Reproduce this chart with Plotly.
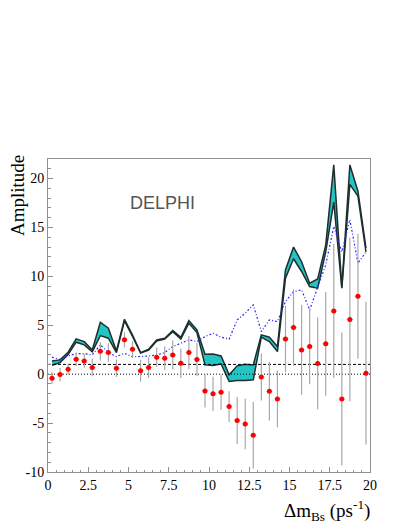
import plotly.graph_objects as go

dm = [0.25, 0.75, 1.25, 1.75, 2.25, 2.75, 3.25, 3.75, 4.25, 4.75,
      5.25, 5.75, 6.25, 6.75, 7.25, 7.75, 8.25, 8.75, 9.25, 9.75,
      10.25, 10.75, 11.25, 11.75, 12.25, 12.75, 13.25, 13.75, 14.25, 14.75,
      15.25, 15.75, 16.25, 16.75, 17.25, 17.75, 18.25, 18.75, 19.25, 19.75]

amp = [-0.41, -0.04, 0.51, 1.53, 1.36, 0.68, 2.35, 2.21, 0.61, 3.51,
       2.55, 0.34, 0.68, 1.74, 1.63, 1.97, 1.12, 2.21, 1.49, -1.71,
       -2.01, -1.84, -3.31, -4.74, -5.08, -6.24, -0.28, -1.74, -2.53, 3.61,
       4.77, 2.48, 2.82, 1.09, 3.10, 6.47, -2.53, 5.59, 7.97, 0.10]

err = [0.6, 0.68, 0.55, 0.7, 0.7, 0.9, 0.95, 0.95, 0.9, 0.77,
       0.85, 1.1, 1.07, 1.0, 1.2, 1.5, 1.5, 1.7, 1.7, 1.7,
       1.75, 1.8, 1.57, 2.4, 2.6, 3.4, 2.4, 3.0, 2.9, 3.4,
       3.9, 4.6, 3.85, 4.7, 5.3, 6.85, 6.8, 8.35, 6.4, 7.3]

band_hi = [1.36, 1.46, 2.25, 3.61, 3.33, 2.48, 5.31, 4.70, 2.38, 5.62,
           4.0, 2.21, 2.55, 3.51, 3.68, 4.46, 3.78, 5.48, 4.53, 2.04,
           2.07, 1.87, -0.07, 0.85, 1.02, 0.95, 4.02, 3.78, 2.82, 10.66,
           13.0, 11.5, 9.3, 9.74, 13.2, 21.4, 8.9, 21.4, 18.7, 12.9]

band_lo = [0.92, 1.19, 2.0, 3.27, 3.0, 2.28, 3.95, 3.68, 2.21, 5.45,
           3.85, 2.15, 2.45, 3.4, 3.58, 4.35, 3.6, 5.21, 4.25, 0.95,
           0.9, 1.05, -0.75, -0.65, -0.65, -0.58, 3.78, 3.33, 2.31, 9.81,
           11.8, 10.5, 8.96, 8.79, 12.5, 17.6, 8.8, 19.4, 18.2, 12.5]

sens = [1.74, 1.5, 1.87, 2.1, 2.1, 1.97, 3.0, 2.2, 1.8, 2.14,
        1.77, 1.8, 1.85, 1.97, 2.21, 2.82, 3.17, 3.51, 3.33, 3.85,
        4.19, 3.78, 3.58, 5.55, 6.24, 7.09, 4.36, 5.55, 5.38, 7.42,
        8.45, 8.62, 6.57, 8.79, 11.18, 15.1, 12.5, 15.8, 11.35, 12.5]

x_tickvals = [0, 2.5, 5, 7.5, 10, 12.5, 15, 17.5, 20]
x_ticktext = ["0", "2.5", "5", "7.5", "10", "12.5", "15", "17.5", "20"]
y_tickvals = [-10, -5, 0, 5, 10, 15, 20]
y_ticktext = ["-10", "-5", "0", "5", "10", "15", "20"]

ref_levels = [1.0, 0.0]
x_span = [0, 20]
y_span = [-10, 22]

serif = "Liberation Serif, Times New Roman, serif"
band_line = "#1f2e2e"
band_fill = "#22c4c4"
axis_col = "#909090"

fig = go.Figure()

# cyan band
fig.add_trace(go.Scatter(x=dm, y=band_lo, mode="lines",
                         line=dict(color=band_line, width=1.5),
                         hoverinfo="skip", showlegend=False))
fig.add_trace(go.Scatter(x=dm, y=band_hi, mode="lines", fill="tonexty",
                         fillcolor=band_fill,
                         line=dict(color=band_line, width=1.5),
                         hoverinfo="skip", showlegend=False))

# sensitivity dotted line
fig.add_trace(go.Scatter(x=dm, y=sens, mode="lines",
                         line=dict(color="#2a2aff", width=1.2,
                                   dash="2px,2px,1px,2px"),
                         showlegend=False))

# reference lines
fig.add_trace(go.Scatter(x=x_span, y=[ref_levels[0]] * 2, mode="lines",
                         line=dict(color="black", width=1, dash="3px,2px"),
                         showlegend=False))
fig.add_trace(go.Scatter(x=x_span, y=[ref_levels[1]] * 2, mode="lines",
                         line=dict(color="black", width=1, dash="1px,2px"),
                         showlegend=False))

# measured amplitudes
fig.add_trace(go.Scatter(x=dm, y=amp, mode="markers",
                         marker=dict(color="red", size=5),
                         error_y=dict(type="data", array=err, color="#a8a8a8",
                                      thickness=1.2, width=0),
                         error_x=dict(type="constant", value=0.2, color="#b8b8b8",
                                      thickness=1, width=0),
                         showlegend=False))

fig.add_annotation(x=7.1, y=17.5, xref="x", yref="y", text="DELPHI",
                   showarrow=False,
                   font=dict(family="Liberation Sans, Arial, sans-serif",
                             size=18, color="#555555"))

fig.add_annotation(x=-0.097, y=1.02, xref="paper", yref="paper",
                   text="Amplitude", textangle=-90, showarrow=False,
                   xanchor="center", yanchor="top",
                   font=dict(family=serif, size=19, color="black"))

fig.add_annotation(x=1.005, y=-0.072, xref="paper", yref="paper",
                   text="Δm<sub>Bs</sub> (ps<sup>-1</sup>)", showarrow=False,
                   xanchor="right", yanchor="top",
                   font=dict(family=serif, size=19, color="black"))

fig.update_xaxes(range=x_span, showgrid=False, zeroline=False, automargin=False,
                 showline=True, linecolor=axis_col, linewidth=1, mirror=True,
                 ticks="inside", ticklen=5, tickcolor=axis_col,
                 tickmode="array", tickvals=x_tickvals, ticktext=x_ticktext,
                 tickangle=0,
                 minor=dict(ticks="inside", ticklen=2.5, dtick=0.5, tick0=0,
                            tickcolor=axis_col),
                 tickfont=dict(family=serif, size=14, color="black"))
fig.update_yaxes(range=y_span, showgrid=False, zeroline=False, automargin=False,
                 showline=True, linecolor=axis_col, linewidth=1, mirror=True,
                 ticks="inside", ticklen=5, tickcolor=axis_col,
                 tickmode="array", tickvals=y_tickvals, ticktext=y_ticktext,
                 minor=dict(ticks="inside", ticklen=2.5, dtick=1, tick0=0,
                            tickcolor=axis_col),
                 tickfont=dict(family=serif, size=14, color="black"))

fig.update_layout(width=401, height=521,
                  margin=dict(l=40, r=39, t=151, b=57),
                  paper_bgcolor="white", plot_bgcolor="white")

fig.write_html("out.html")
